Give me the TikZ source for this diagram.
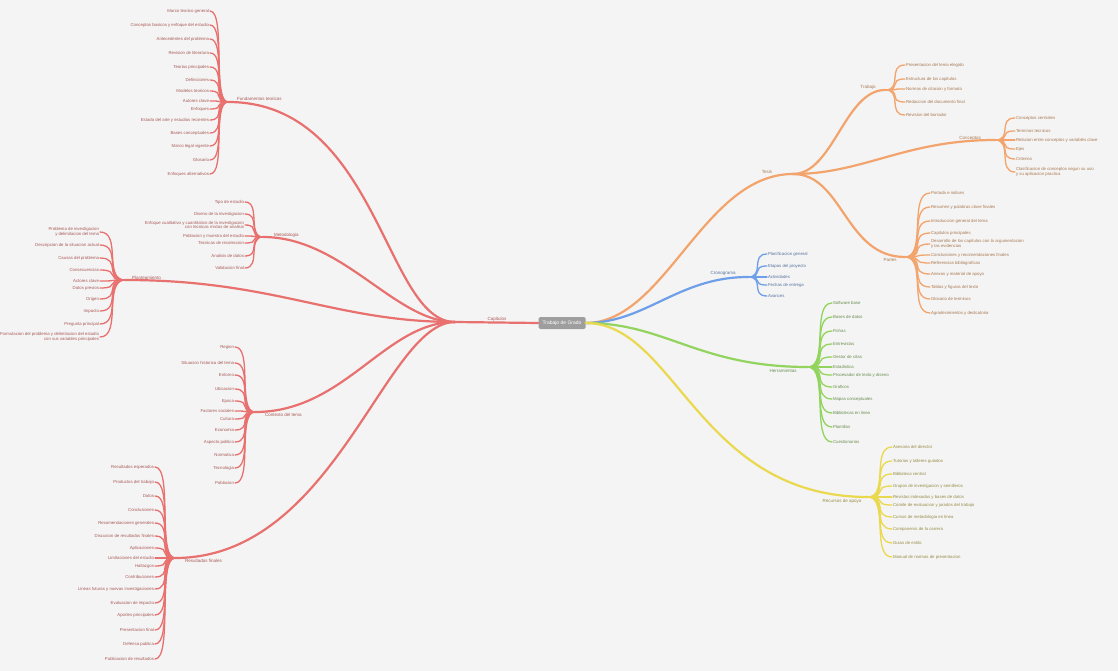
\documentclass[tikz,border=0pt]{standalone}
\usepackage{fontspec}
\setmainfont{Liberation Sans}

\definecolor{paper}{HTML}{F4F4F4}
\definecolor{rootfill}{HTML}{9E9E9E}
\definecolor{redline}{HTML}{E8716F}
\definecolor{redtext}{HTML}{A85A58}
\definecolor{orangeline}{HTML}{F2A46C}
\definecolor{orangetext}{HTML}{A87852}
\definecolor{blueline}{HTML}{6F9FE8}
\definecolor{bluetext}{HTML}{5873A0}
\definecolor{greenline}{HTML}{92D45E}
\definecolor{greentext}{HTML}{6A8C4E}
\definecolor{yellowline}{HTML}{EAD84E}
\definecolor{yellowtext}{HTML}{978C48}

\tikzset{
  leaf/.style={font=\fontsize{4.3}{4.7}\selectfont, inner sep=0.8pt},
  hubname/.style={font=\fontsize{4.5}{5}\selectfont, inner sep=0.8pt},
  twig/.style={line width=1.3pt, line cap=round},
  bough/.style={line width=2.2pt, line cap=round},
  rootbox/.style={fill=rootfill, text=white, rounded corners=1.5pt,
    minimum width=47pt, minimum height=12pt, inner sep=1pt,
    font=\fontsize{5}{5.5}\selectfont}
}

\begin{document}
\begin{tikzpicture}[x=1pt,y=-1pt]
  \path[use as bounding box, fill=paper] (0,0) rectangle (1118,671);

  %%%%%%%%%%%%% centre %%%%%%%%%%%%%
  \node[rootbox] (raiz) at (562,323) {Trabajo de Grado};
  \coordinate (capitulos) at (455,322);
  \node[hubname, redtext] (lcap) at (497,319) {Capitulos};

  %%%%%%%%%%%%% hubs %%%%%%%%%%%%%
  \coordinate (teoria) at (228,102);
  \coordinate (metodo) at (263,237);
  \coordinate (problema) at (125,280);
  \coordinate (contexto) at (255,412);
  \coordinate (resultados) at (175,558);
  \coordinate (tesis) at (793,174);
  \coordinate (trabajo) at (885,90);
  \coordinate (conceptos) at (995,140);
  \coordinate (partes) at (905,257);
  \coordinate (plan) at (748,277);
  \coordinate (herram) at (808,367);
  \coordinate (apoyo) at (868,497);

  \node[hubname, redtext, anchor=west] (lteoria) at (236,99) {Fundamentos teoricos};
  \node[hubname, redtext, anchor=west] (lmetodo) at (273,235) {Metodologia};
  \node[hubname, redtext, anchor=west] (lproblema) at (131,278) {Planteamiento};
  \node[hubname, redtext, anchor=west] (lcontexto) at (264,415) {Contexto del tema};
  \node[hubname, redtext, anchor=west] (lresultados) at (184,561) {Resultados finales};
  \node[hubname, orangetext] (ltesis) at (767,172) {Tesis};
  \node[hubname, orangetext] (ltrabajo) at (868,87) {Trabajo};
  \node[hubname, orangetext] (lconceptos) at (970,138) {Conceptos};
  \node[hubname, orangetext] (lpartes) at (890,260) {Partes};
  \node[hubname, bluetext] (lplan) at (723,273) {Cronograma};
  \node[hubname, greentext] (lherram) at (783,371) {Herramientas};
  \node[hubname, yellowtext] (lapoyo) at (842,501) {Recursos de apoyo};

  %%%%%%%%%%%%% main branches %%%%%%%%%%%%%
  \draw[bough, redline] (raiz.west) -- (capitulos);
  \draw[bough, redline] (capitulos) .. controls +(-70,0) and +(150,0) .. (teoria);
  \draw[bough, redline] (capitulos) .. controls +(-60,0) and +(80,0) .. (metodo);
  \draw[bough, redline] (capitulos) .. controls +(-120,0) and +(150,0) .. (problema);
  \draw[bough, redline] (capitulos) .. controls +(-70,0) and +(90,0) .. (contexto);
  \draw[bough, redline] (capitulos) .. controls +(-70,0) and +(160,0) .. (resultados);

  \draw[bough, orangeline] (raiz.east) .. controls +(80,0) and +(-90,0) .. (tesis);
  \draw[bough, orangeline] (tesis) .. controls +(40,0) and +(-40,0) .. (trabajo);
  \draw[bough, orangeline] (tesis) .. controls +(70,0) and +(-90,0) .. (conceptos);
  \draw[bough, orangeline] (tesis) .. controls +(50,0) and +(-60,0) .. (partes);
  \draw[bough, blueline] (raiz.east) .. controls +(60,0) and +(-70,0) .. (plan);
  \draw[bough, greenline] (raiz.east) .. controls +(80,0) and +(-110,0) .. (herram);
  \draw[bough, yellowline] (raiz.east) .. controls +(90,0) and +(-170,0) .. (apoyo);

  %%%%%%%%%%%%% left leaves %%%%%%%%%%%%%
  \foreach \y/\t [count=\i] in {11/Marco teorico general, 25/Conceptos basicos y enfoque del estudio,
      39/Antecedentes del problema, 53/Revision de literatura, 67/Teorias principales,
      80/Definiciones, 91/Modelos teoricos, 101/Autores clave, 109/Enfoques,
      120/Estado del arte y estudios recientes, 133/Bases conceptuales, 146/Marco legal vigente,
      160/Glosario, 174/Enfoques alternativos}
  {
    \node[leaf, redtext, anchor=east] (teoria-\i) at (210,\y) {\t};
    \draw[twig, redline] (teoria) .. controls +(-16,0) and +(16,0) .. (teoria-\i.east);
  }

  \foreach \y/\t [count=\i] in {202/Tipo de estudio, 214/Diseno de la investigacion,
      225/{Enfoque cualitativo y cuantitativo de la investigacion\\ con tecnicas mixtas de analisis},
      236/Poblacion y muestra del estudio, 243/Tecnicas de recoleccion,
      256/Analisis de datos, 268/Validacion final}
  {
    \node[leaf, redtext, anchor=east, align=right] (metodo-\i) at (245,\y) {\t};
    \draw[twig, redline] (metodo) .. controls +(-16,0) and +(16,0) .. (metodo-\i.east);
  }

  \foreach \y/\t [count=\i] in {232/{Problema de investigacion\\ y delimitacion del tema},
      245/Descripcion de la situacion actual, 258/Causas del problema,
      270/Consecuencias, 281/Actores clave, 288/Datos previos, 299/Origen, 311/Impacto,
      324/Pregunta principal,
      337/{Formulacion del problema y delimitacion del estudio\\ con sus variables principales}}
  {
    \node[leaf, redtext, anchor=east, align=right] (problema-\i) at (100,\y) {\t};
    \draw[twig, redline] (problema) .. controls +(-22,0) and +(22,0) .. (problema-\i.east);
  }

  \foreach \y/\t [count=\i] in {347/Region, 363/Situacion historica del tema, 375/Entorno,
      389/Ubicacion, 401/Epoca, 411/Factores sociales, 419/Cultura, 430/Economia,
      442/Aspecto politico, 455/Normativa, 468/Tecnologia, 483/Poblacion}
  {
    \node[leaf, redtext, anchor=east] (contexto-\i) at (235,\y) {\t};
    \draw[twig, redline] (contexto) .. controls +(-18,0) and +(18,0) .. (contexto-\i.east);
  }

  \foreach \y/\t [count=\i] in {467/Resultados esperados, 482/Productos del trabajo, 496/Datos,
      510/Conclusiones, 523/Recomendaciones generales, 536/Discusion de resultados finales,
      548/Aplicaciones, 558/Limitaciones del estudio, 566/Hallazgos, 577/Contribuciones,
      589/Lineas futuras y nuevas investigaciones, 603/Evaluacion de impacto,
      615/Aportes principales, 630/Presentacion final, 644/Defensa publica,
      659/Publicacion de resultados}
  {
    \node[leaf, redtext, anchor=east] (resultados-\i) at (155,\y) {\t};
    \draw[twig, redline] (resultados) .. controls +(-18,0) and +(18,0) .. (resultados-\i.east);
  }

  %%%%%%%%%%%%% right leaves %%%%%%%%%%%%%
  \foreach \y/\t [count=\i] in {65/Presentacion del tema elegido, 79/Estructura de los capitulos,
      89/Normas de citacion y formato, 102/Redaccion del documento final, 115/Revision del borrador}
  {
    \node[leaf, orangetext, anchor=west] (trabajo-\i) at (905,\y) {\t};
    \draw[twig, orangeline] (trabajo) .. controls +(18,0) and +(-18,0) .. (trabajo-\i.west);
  }

  \foreach \y/\t [count=\i] in {118/Conceptos centrales, 131/Terminos tecnicos,
      140/Relacion entre conceptos y variables clave, 149/Ejes, 159/Criterios,
      172/{Clasificacion de conceptos segun su uso\\ y su aplicacion practica}}
  {
    \node[leaf, orangetext, anchor=west, align=left] (conceptos-\i) at (1015,\y) {\t};
    \draw[twig, orangeline] (conceptos) .. controls +(18,0) and +(-18,0) .. (conceptos-\i.west);
  }

  \foreach \y/\t [count=\i] in {193/Portada e indices, 207/Resumen y palabras clave finales,
      221/Introduccion general del tema, 233/Capitulos principales,
      244/{Desarrollo de los capitulos con la argumentacion\\ y las evidencias},
      255/Conclusiones y recomendaciones finales, 263/Referencias bibliograficas,
      274/Anexos y material de apoyo, 287/Tablas y figuras del texto,
      299/Glosario de terminos, 313/Agradecimientos y dedicatoria}
  {
    \node[leaf, orangetext, anchor=west, align=left] (partes-\i) at (930,\y) {\t};
    \draw[twig, orangeline] (partes) .. controls +(22,0) and +(-22,0) .. (partes-\i.west);
  }

  \foreach \y/\t [count=\i] in {254/Planificacion general, 266/Etapas del proyecto,
      277/Actividades, 285/Fechas de entrega, 296/Avances}
  {
    \node[leaf, bluetext, anchor=west] (plan-\i) at (767,\y) {\t};
    \draw[twig, blueline] (plan) .. controls +(17,0) and +(-17,0) .. (plan-\i.west);
  }

  \foreach \y/\t [count=\i] in {303/Software base, 317/Bases de datos, 331/Fichas,
      344/Entrevistas, 357/Gestor de citas, 367/Estadistica,
      375/Procesador de texto y diseno, 387/Graficos, 399/Mapas conceptuales,
      413/Bibliotecas en linea, 427/Plantillas, 442/Cuestionarios}
  {
    \node[leaf, greentext, anchor=west] (herram-\i) at (832,\y) {\t};
    \draw[twig, greenline] (herram) .. controls +(21,0) and +(-21,0) .. (herram-\i.west);
  }

  \foreach \y/\t [count=\i] in {447/Asesoria del director, 461/Tutorias y talleres guiados,
      474/Biblioteca central, 486/Grupos de investigacion y semilleros,
      497/Revistas indexadas y bases de datos, 505/Comite de evaluacion y jurados del trabajo,
      517/Cursos de metodologia en linea, 529/Companeros de la carrera,
      543/Guias de estilo, 557/Manual de normas de presentacion}
  {
    \node[leaf, yellowtext, anchor=west] (apoyo-\i) at (892,\y) {\t};
    \draw[twig, yellowline] (apoyo) .. controls +(21,0) and +(-21,0) .. (apoyo-\i.west);
  }
\end{tikzpicture}
\end{document}
